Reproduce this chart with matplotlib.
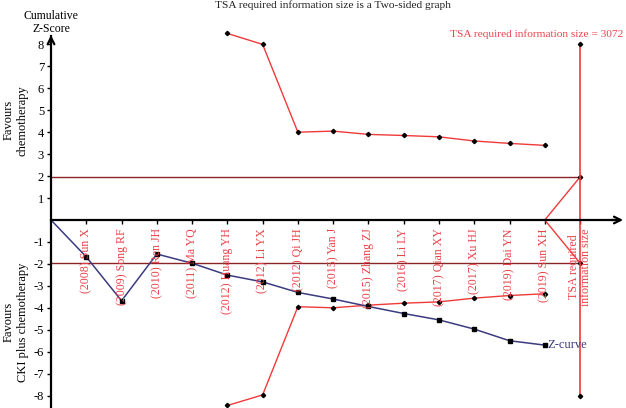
import matplotlib
matplotlib.use("Agg")
import matplotlib.pyplot as plt
import numpy as np

plt.rcParams['font.family'] = ['Liberation Serif', 'DejaVu Serif']

studies = ["(2008) Sun X", "(2009) Song RF", "(2010) Ren JH", "(2011) Ma YQ",
           "(2012) Huang YH", "(2012) Li YX", "(2012) Qi JH", "(2015) Yan J",
           "(2015) Zhang ZJ", "(2016) Li LY", "(2017) Qian XY", "(2017) Xu HJ",
           "(2019) Dai YN", "(2019) Sun XH"]
tsa_label = "TSA required\ninformation size"
z_curve = [0.0, -1.68, -3.68, -1.55, -1.97, -2.51, -2.82, -3.30, -3.60, -3.94,
           -4.26, -4.55, -4.97, -5.50, -5.70]
upper_bound = [8.50, 8.00, 4.00, 4.05, 3.90, 3.85, 3.79, 3.60, 3.49, 3.40]
lower_bound = [-8.45, -7.97, -3.95, -4.00, -3.88, -3.79, -3.73, -3.56, -3.44, -3.36]
bound_start = 5  # index of first study with boundary values
ris_bounds = [8.0, -8.0]
conventional = 1.96
ris_text = "TSA required information size = 3072"
title = "TSA required information size is a Two-sided graph"

red = "#f03a3a"
txtred = "#e8424a"
navy = "#3b3b80"
darkred = "#8b2525"

fig = plt.figure(figsize=(6.26, 4.08), dpi=100)
ax = fig.add_axes([0, 0, 1, 1])
ux = 35.27
uy = 21.95
ax.set_xlim(-51 / ux, (626 - 51) / ux)
ax.set_ylim(-188 / uy, 220 / uy)
ax.patch.set_alpha(0)

n = len(studies)
xs = np.arange(len(z_curve))
ris_x = n + 1

# spines at zero
for s in ['top', 'right']:
    ax.spines[s].set_visible(False)
ax.spines['left'].set_position(('data', 0))
ax.spines['bottom'].set_position(('data', 0))
ax.spines['left'].set_linewidth(1.6)
ax.spines['bottom'].set_linewidth(1.6)
ax.spines['left'].set_bounds(-8.6, 8.4)
ax.spines['bottom'].set_bounds(0, 16.1)
ax.annotate('', xy=(0, 8.55), xytext=(0, 8.0),
            arrowprops=dict(arrowstyle='->', lw=1.6, color='black', mutation_scale=12))
ax.annotate('', xy=(16.3, 0), xytext=(15.8, 0),
            arrowprops=dict(arrowstyle='->', lw=1.6, color='black', mutation_scale=12))

yt = [v for v in range(-8, 9) if v != 0]
ax.set_yticks(yt)
ax.set_yticklabels([str(v).replace('\u2212', '-') for v in yt], fontsize=9)
ax.set_xticks(np.arange(1, ris_x + 1))
ax.set_xticklabels([])
ax.tick_params(axis='y', direction='out', length=3, width=1, pad=2)
ax.tick_params(axis='x', direction='out', length=3, width=1)

# conventional boundaries
ax.plot([0, ris_x], [conventional, conventional], color=darkred, lw=1)
ax.plot([0, ris_x], [-conventional, -conventional], color=darkred, lw=1)

# TSA boundaries
bx = np.arange(bound_start, n + 1)
ax.plot(bx, upper_bound, color=red, lw=1, marker='D', ms=2.2, mfc='black', mec='black')
ax.plot(bx, lower_bound, color=red, lw=1, marker='D', ms=2.2, mfc='black', mec='black')
ax.plot([n, ris_x], [0, conventional], color=red, lw=1, marker='D', ms=2.2,
        mfc='black', mec='black', markevery=[1])
ax.plot([n, ris_x], [0, -conventional], color=red, lw=1, marker='D', ms=2.2,
        mfc='black', mec='black', markevery=[1])
ax.plot([ris_x, ris_x], ris_bounds, color=red, lw=1.2, marker='D', ms=2.2,
        mfc='black', mec='black')

# Z curve
ax.plot(xs, z_curve, color=navy, lw=1.1, marker='s', ms=2.6, mfc='black',
        mec='black', markevery=list(range(1, len(z_curve))))
ax.text(xs[-1] + 0.08, z_curve[-1], "Z-curve", color=navy, fontsize=9,
        ha='left', va='center')

# study labels
for i, lab in enumerate(studies):
    ax.text(i + 1, -0.38, lab, rotation=90, ha='center', va='top',
            color=txtred, fontsize=8.6)
ax.text(ris_x, -0.38, tsa_label, rotation=90, ha='center', va='top',
        color=txtred, fontsize=8.6, multialignment='center', linespacing=1.0)

ax.text(ris_x + 1.22, 8.45, ris_text, color=txtred, fontsize=8.2, ha='right', va='center')

fig.text(333 / 626, 1.0, title, ha='center', va='top', fontsize=8.2, color='#222222')
ax.text(0, 8.98, "Cumulative\nZ-Score", ha='center', va='center', fontsize=8.5,
        linespacing=1.1)
ax.text(-1.0, 4.55, "Favours\nchemotherapy", rotation=90, ha='center', va='center',
        fontsize=9, linespacing=1.2)
ax.text(-1.0, -4.65, "Favours\nCKI plus chemotherapy", rotation=90, ha='center',
        va='center', fontsize=9, linespacing=1.2)

fig.savefig("out.png", dpi=100)
